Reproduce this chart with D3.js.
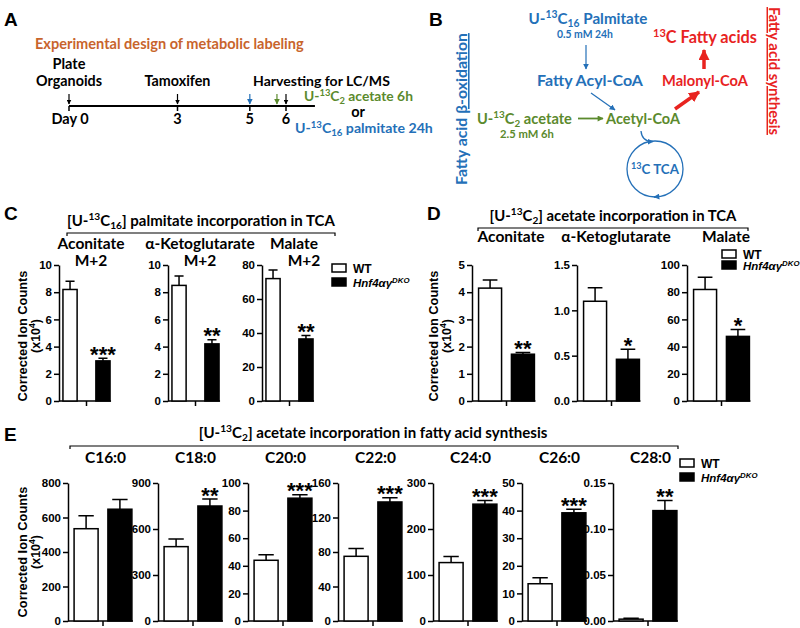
<!DOCTYPE html>
<html>
<head>
<meta charset="utf-8">
<script src="https://cdn.jsdelivr.net/npm/d3@7"></script>
<style>
body { margin: 0; background: #fff; }
svg { display: block; }
.cal { font-family: Lato, "Open Sans", sans-serif; font-weight: bold; }
.ari { font-family: "Liberation Sans", Arial, sans-serif; font-weight: bold; }
</style>
</head>
<body>
<svg id="fig" width="800" height="628"></svg>
<script>
var groups = ["WT", "DKO"];

// panel A timeline
var aDays = [0, 3, 5, 6];
var aDayLabels = ["Day 0", "3", "5", "6"];
var aArrowDays = [0, 3, 5, 5.75, 6];
var aArrowKind = ["k", "k", "palm", "acet", "k"];

// panel C: [U-13C16] palmitate -> TCA
var cNames = ["Aconitate", "α-Ketoglutarate", "Malate"];
var cMax = [10, 10, 80];
var cStep = [2, 2, 20];
var cWT = [8.2, 8.5, 72];
var cWTerr = [0.6, 0.7, 5];
var cKO = [2.95, 4.2, 36.5];
var cKOerr = [0.2, 0.3, 2];
var cStars = ["***", "**", "**"];

// panel D: [U-13C2] acetate -> TCA
var dNames = ["Aconitate", "α-Ketoglutarate", "Malate"];
var dMax = [5, 1.5, 100];
var dStep = [1, 0.5, 20];
var dWT = [4.15, 1.1, 82];
var dWTerr = [0.3, 0.15, 9];
var dKO = [1.72, 0.46, 47.5];
var dKOerr = [0.06, 0.11, 5];
var dStars = ["**", "*", "*"];

// panel E: [U-13C2] acetate -> fatty acids
var eNames = ["C16:0", "C18:0", "C20:0", "C22:0", "C24:0", "C26:0", "C28:0"];
var eMax = [800, 900, 100, 160, 300, 50, 0.15];
var eStep = [200, 300, 20, 40, 100, 10, 0.05];
var eWT = [535, 485, 44, 75, 127, 13.5, 0.002];
var eWTerr = [75, 50, 4, 9, 13, 2.2, 0.001];
var eKO = [648, 750, 89, 138, 254, 39.2, 0.12];
var eKOerr = [57, 45, 2.5, 5, 8, 1.3, 0.011];
var eStars = ["", "**", "***", "***", "***", "***", "**"];

var blue = "#2470b8", green = "#5b8a2d", red = "#e8231f", orange = "#c8642c";

var svg = d3.select("#fig");

var defs = svg.append("defs");
function marker(id, color, w, h) {
	defs.append("marker")
		.attr("id", id)
		.attr("viewBox", "0 0 10 10")
		.attr("refX", 9).attr("refY", 5)
		.attr("markerWidth", w).attr("markerHeight", h)
		.attr("markerUnits", "userSpaceOnUse")
		.attr("orient", "auto")
		.append("path")
		.attr("d", "M0,0 L10,5 L0,10 z")
		.attr("fill", color);
}
marker("hk", "#000", 5, 5);
marker("hb", blue, 6, 6);
marker("hg", green, 6, 6);
marker("hbs", blue, 6, 6);
marker("hgs", green, 7, 6);
marker("hr", red, 11, 11);

// text with sup / sub / italic pieces
function rich(sel, parts, size) {
	var shift = 0;
	parts.forEach(function (p) {
		var target = p.s == "sup" ? -0.38 * size : (p.s == "sub" ? 0.22 * size : 0);
		var t = sel.append("tspan").attr("dy", target - shift).text(p.t);
		if (p.s) t.attr("font-size", size * 0.68);
		if (p.i) t.attr("font-style", "italic");
		if (p.u) t.attr("text-decoration", "underline");
		shift = target;
	});
	return sel;
}

function txt(x, y, size, cls, color, anchor) {
	return svg.append("text")
		.attr("class", cls)
		.attr("x", x).attr("y", y)
		.attr("font-size", size)
		.attr("fill", color || "#000")
		.attr("text-anchor", anchor || "start");
}

// draw a label, then redraw it at the size that gives the width
function fitted(width, make) {
	var t = make(14);
	var w = t.node().getComputedTextLength();
	t.remove();
	return make(14 * width / w);
}

function fitRich(x, y, width, color, anchor, parts) {
	return fitted(width, function (s) {
		return rich(txt(x, y, s, "cal", color, anchor), parts, s);
	});
}

function fitPlain(x, y, width, color, anchor, str) {
	return fitted(width, function (s) {
		return txt(x, y, s, "cal", color, anchor).text(str);
	});
}

function panelLetter(l, x, y) {
	txt(x, y, 19, "ari").text(l);
}

// ---------- A ----------
panelLetter("A", 4, 26);
fitPlain(35, 49, 269, orange, "start", "Experimental design of metabolic labeling");

var day = d3.scaleLinear().domain([0, 6]).range([69, 286]);
var lineY = 106;
svg.append("line")
	.attr("x1", day(0)).attr("x2", day(6.8))
	.attr("y1", lineY).attr("y2", lineY)
	.attr("stroke", "#000").attr("stroke-width", 2);
svg.selectAll(".dtick").data(aDays).enter().append("line")
	.attr("x1", function (d) { return day(d); })
	.attr("x2", function (d) { return day(d); })
	.attr("y1", lineY).attr("y2", lineY + 5)
	.attr("stroke", "#000").attr("stroke-width", 1.5);
svg.selectAll(".darr").data(aArrowDays).enter().append("line")
	.attr("x1", function (d) { return day(d); })
	.attr("x2", function (d) { return day(d); })
	.attr("y1", lineY - 12).attr("y2", lineY - 2)
	.attr("stroke", function (d, i) { return aArrowKind[i] == "palm" ? blue : aArrowKind[i] == "acet" ? green : "#000"; })
	.attr("stroke-width", 1.2)
	.attr("marker-end", function (d, i) { return aArrowKind[i] == "palm" ? "url(#hb)" : aArrowKind[i] == "acet" ? "url(#hg)" : "url(#hk)"; });
svg.selectAll(".dlab").data(aDays).enter().append("text")
	.attr("class", "cal")
	.attr("x", function (d) { return day(d) + (d == 0 ? 1 : 0); })
	.attr("y", 124)
	.attr("font-size", 14.5)
	.attr("text-anchor", "middle")
	.text(function (d, i) { return aDayLabels[i]; });

fitPlain(day(0), 69, 33, "#000", "middle", "Plate");
fitPlain(day(0), 86, 66, "#000", "middle", "Organoids");
fitPlain(day(3), 86, 66, "#000", "middle", "Tamoxifen");
fitPlain(253, 86, 137, "#000", "start", "Harvesting for LC/MS");
fitRich(304, 101, 109, green, "start", [{t: "U-"}, {t: "13", s: "sup"}, {t: "C"}, {t: "2", s: "sub"}, {t: " acetate 6h"}]);
txt(358, 117, 14.5, "cal", "#000", "middle").text("or");
fitRich(295, 133, 138, blue, "start", [{t: "U-"}, {t: "13", s: "sup"}, {t: "C"}, {t: "16", s: "sub"}, {t: " palmitate 24h"}]);

// ---------- B ----------
panelLetter("B", 429, 26);
fitRich(588, 24, 119, blue, "middle", [{t: "U-"}, {t: "13", s: "sup"}, {t: "C"}, {t: "16", s: "sub"}, {t: " Palmitate"}]);
fitPlain(585, 38, 56, blue, "middle", "0.5 mM 24h");
svg.append("line").attr("x1", 586).attr("y1", 45).attr("x2", 586).attr("y2", 69)
	.attr("stroke", blue).attr("stroke-width", 1.2).attr("marker-end", "url(#hbs)");
fitPlain(590, 86, 106, blue, "middle", "Fatty Acyl-CoA");
svg.append("line").attr("x1", 591).attr("y1", 93).attr("x2", 615).attr("y2", 110)
	.attr("stroke", blue).attr("stroke-width", 1.2).attr("marker-end", "url(#hbs)");
fitRich(477, 124, 95, green, "start", [{t: "U-"}, {t: "13", s: "sup"}, {t: "C"}, {t: "2", s: "sub"}, {t: " acetate"}]);
fitPlain(527, 138, 54, green, "middle", "2.5 mM 6h");
svg.append("line").attr("x1", 578).attr("y1", 118.5).attr("x2", 603).attr("y2", 118.5)
	.attr("stroke", green).attr("stroke-width", 1.8).attr("marker-end", "url(#hgs)");
fitPlain(643, 124, 74, green, "middle", "Acetyl-CoA");
fitRich(705, 43, 104, red, "middle", [{t: "13", s: "sup"}, {t: "C Fatty acids"}]);
svg.append("line").attr("x1", 704).attr("y1", 69).attr("x2", 704).attr("y2", 50)
	.attr("stroke", red).attr("stroke-width", 3.5).attr("marker-end", "url(#hr)");
fitPlain(705, 86, 86, red, "middle", "Malonyl-CoA");
svg.append("line").attr("x1", 675).attr("y1", 109).attr("x2", 699).attr("y2", 92)
	.attr("stroke", red).attr("stroke-width", 3.5).attr("marker-end", "url(#hr)");

var tca = {x: 655, y: 169, r: 28};
svg.append("circle").attr("cx", tca.x).attr("cy", tca.y).attr("r", tca.r)
	.attr("fill", "none").attr("stroke", blue).attr("stroke-width", 1.3);
svg.append("path").attr("d", "M641,131 Q642,142 653,141.5")
	.attr("fill", "none").attr("stroke", blue).attr("stroke-width", 1.3)
	.attr("marker-end", "url(#hbs)");
svg.append("path").attr("d", "M660,196.5 L654,197")
	.attr("fill", "none").attr("stroke", blue).attr("stroke-width", 1.3)
	.attr("marker-end", "url(#hbs)");
fitRich(tca.x, tca.y + 5, 48, blue, "middle", [{t: "13", s: "sup"}, {t: "C TCA"}]);

fitted(152, function (s) {
	return rich(svg.append("text").attr("class", "cal").attr("font-size", s).attr("fill", blue)
		.attr("text-anchor", "middle")
		.attr("transform", "translate(467,109) rotate(-90)"),
		[{t: "Fatty acid "}, {t: "β-oxidation", u: 1}], s);
});
fitted(128, function (s) {
	return svg.append("text").attr("class", "cal").attr("font-size", s).attr("fill", red)
		.attr("text-anchor", "middle")
		.attr("text-decoration", "underline")
		.attr("transform", "translate(769,71) rotate(90)")
		.text("Fatty acid synthesis");
});

// ---------- bar chart helpers ----------
function yLabel(x, cy) {
	svg.append("text").attr("class", "ari").attr("font-size", 12.8)
		.attr("text-anchor", "middle")
		.attr("transform", "translate(" + x + "," + cy + ") rotate(-90)")
		.text("Corrected Ion Counts");
	rich(svg.append("text").attr("class", "ari").attr("font-size", 12.5)
		.attr("text-anchor", "middle")
		.attr("transform", "translate(" + (x + 12.5) + "," + cy + ") rotate(-90)"),
		[{t: "(x10"}, {t: "4", s: "sup"}, {t: ")"}], 12.5);
}

function legend(bx, y1, y2) {
	svg.append("rect").attr("x", bx).attr("y", y1).attr("width", 14).attr("height", 8)
		.attr("fill", "#fff").attr("stroke", "#000").attr("stroke-width", 1.5);
	svg.append("rect").attr("x", bx - 0.75).attr("y", y2 - 0.75).attr("width", 15.5).attr("height", 9.5)
		.attr("fill", "#000");
	txt(bx + 21, y1 + 9, 12, "ari").text("WT");
	rich(txt(bx + 21, y2 + 9, 11.5, "ari"), [{t: "Hnf4αγ", i: 1}, {t: "DKO", s: "sup", i: 1}], 11.5);
}

function bracket(x1, x2, y) {
	svg.append("path").attr("d", "M" + x1 + "," + (y + 3) + "V" + y + "H" + x2 + "V" + (y + 3))
		.attr("fill", "none").attr("stroke", "#000").attr("stroke-width", 1.2);
}

function barChart(ax, yZero, yTop, band, max, step, wt, wtErr, ko, koErr, star) {
	var g = svg.append("g");
	var x = d3.scaleBand().domain(groups)
		.range([ax, ax + band.w]).paddingInner(band.pi).paddingOuter(band.po);
	var y = d3.scaleLinear().domain([0, max]).range([yZero, yTop]);
	var fmt = d3.format("." + d3.precisionFixed(step) + "f");
	var ticks = d3.range(0, max + step / 2, step);
	var bw = x.bandwidth();
	var vals = [wt, ko], errs = [wtErr, koErr];

	var yAx = g.append("g").attr("transform", "translate(" + ax + ",0)")
		.call(d3.axisLeft(y).tickValues(ticks).tickFormat(fmt).tickSize(5).tickSizeOuter(0).tickPadding(2));
	yAx.attr("font-family", null).attr("font-size", null);
	yAx.select(".domain").attr("stroke-width", 1.5);
	yAx.selectAll(".tick line").attr("stroke-width", 1.5);
	yAx.selectAll("text")
		.attr("font-family", "'Liberation Sans', Arial, sans-serif")
		.attr("font-weight", "bold")
		.attr("font-size", 11.5)
		.attr("fill", "#000");

	var xEnd = x("DKO") + bw + 1;
	g.append("line").attr("x1", ax).attr("x2", xEnd).attr("y1", yZero).attr("y2", yZero)
		.attr("stroke", "#000").attr("stroke-width", 1.5);
	var mid = (x("WT") + x("DKO") + bw) / 2;
	g.append("line").attr("x1", mid).attr("x2", mid).attr("y1", yZero).attr("y2", yZero + 5)
		.attr("stroke", "#000").attr("stroke-width", 1.5);

	// error bars (upper only)
	g.selectAll(".err").data(groups).enter().append("path")
		.attr("d", function (d, i) {
			var cx = x(d) + bw / 2, top = y(vals[i] + errs[i]);
			return "M" + cx + "," + y(vals[i]) + "V" + top + "M" + (cx - bw * 0.32) + "," + top + "H" + (cx + bw * 0.32);
		})
		.attr("fill", "none").attr("stroke", "#000").attr("stroke-width", 1.5);

	g.selectAll(".bar").data(groups).enter().append("rect")
		.attr("x", function (d) { return x(d); })
		.attr("y", function (d, i) { return y(vals[i]); })
		.attr("width", bw)
		.attr("height", function (d, i) { return yZero - y(vals[i]); })
		.attr("fill", function (d) { return d == "WT" ? "#fff" : "#000"; })
		.attr("stroke", "#000").attr("stroke-width", 1.5);

	if (star) {
		g.append("text").attr("class", "ari").attr("font-size", 22)
			.attr("text-anchor", "middle")
			.attr("x", x("DKO") + bw / 2)
			.attr("y", y(ko + koErr) + 3.5)
			.text(star);
	}
	return (x("WT") + xEnd) / 2;
}

// ---------- C ----------
panelLetter("C", 4, 220);
fitRich(201, 226, 268, "#000", "middle",
	[{t: "[U-"}, {t: "13", s: "sup"}, {t: "C"}, {t: "16", s: "sub"}, {t: "] palmitate incorporation in TCA"}]);
bracket(67, 335, 233);
var cAxisX = [59, 168, 262];
cNames.forEach(function (n, i) {
	var c = barChart(cAxisX[i], 401, 265, {w: 55, pi: 0.57, po: 0.12},
		cMax[i], cStep[i], cWT[i], cWTerr[i], cKO[i], cKOerr[i], cStars[i]);
	txt(c + 4, 249, 15.5, "cal", "#000", "middle").text(n);
	txt(c + 4 + (i == 2 ? 10 : 0), 266, 15.5, "cal", "#000", "middle").text("M+2");
});
yLabel(27, 336);
legend(332, 264, 278);

// ---------- D ----------
panelLetter("D", 427, 220);
fitRich(613, 221, 247, "#000", "middle",
	[{t: "[U-"}, {t: "13", s: "sup"}, {t: "C"}, {t: "2", s: "sub"}, {t: "] acetate incorporation in TCA"}]);
bracket(478, 748, 228);
var dAxisX = [472, 577, 687];
dNames.forEach(function (n, i) {
	var c = barChart(dAxisX[i], 401, 265, {w: 69, pi: 0.3, po: 0.2},
		dMax[i], dStep[i], dWT[i], dWTerr[i], dKO[i], dKOerr[i], dStars[i]);
	txt(c + 4, 242, 15.5, "cal", "#000", "middle").text(n);
});
yLabel(438, 336);
legend(722, 250, 261);

// ---------- E ----------
panelLetter("E", 4, 441);
fitRich(373, 438, 349, "#000", "middle",
	[{t: "[U-"}, {t: "13", s: "sup"}, {t: "C"}, {t: "2", s: "sub"}, {t: "] acetate incorporation in fatty acid synthesis"}]);
bracket(70, 678, 446);
var eAxisX = [68, 158, 248, 338, 433, 522, 613];
eNames.forEach(function (n, i) {
	var c = barChart(eAxisX[i], 621, 483, {w: 70, pi: 0.29, po: 0.18},
		eMax[i], eStep[i], eWT[i], eWTerr[i], eKO[i], eKOerr[i], eStars[i]);
	txt(c + 2, 463, 15.5, "cal", "#000", "middle").text(n);
});
yLabel(27, 552);
legend(680, 459, 473);
</script>
</body>
</html>
